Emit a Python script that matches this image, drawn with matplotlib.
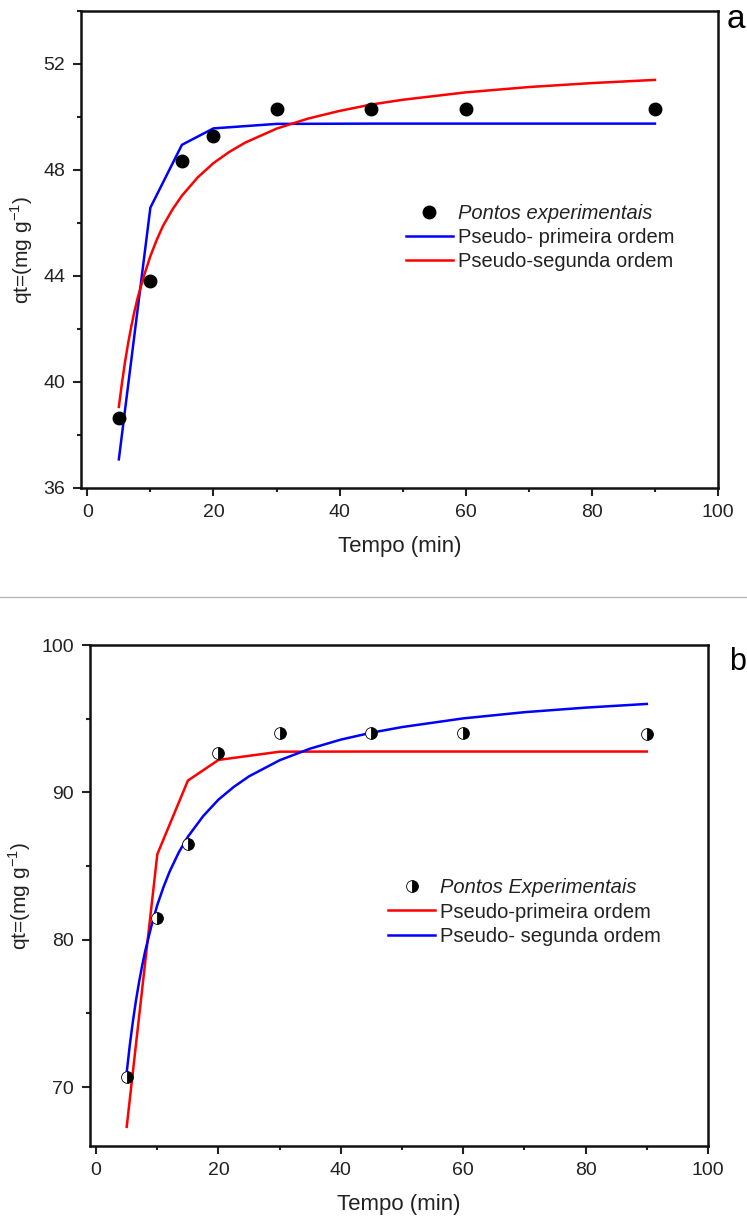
import matplotlib
matplotlib.use('Agg')
import matplotlib.pyplot as plt
from matplotlib.lines import Line2D
from matplotlib.ticker import MultipleLocator

plt.rcParams['font.family'] = ['Liberation Sans', 'DejaVu Sans']

# tempos (min)
t_exp = [5, 10, 15, 20, 30, 45, 60, 90]

# painel a
qa_exp = [38.63, 43.81, 48.33, 49.3, 50.32, 50.32, 50.32, 50.32]
qa_pfo = [37.08, 46.58, 48.95, 49.57, 49.74, 49.75, 49.75, 49.75]
t_curve = [5, 5.5, 6, 6.5, 7, 7.5, 8, 9, 10, 11, 12, 13.5, 15, 17.5, 20, 22.5,
           25, 30, 35, 40, 45, 50, 60, 70, 80, 90]
qa_pso = [39.06, 39.97, 40.79, 41.5, 42.13, 42.69, 43.19, 44.02, 44.75, 45.36,
          45.89, 46.51, 47.03, 47.72, 48.26, 48.68, 49.03, 49.56, 49.94, 50.23,
          50.47, 50.65, 50.93, 51.13, 51.28, 51.4]

# painel b
qb_exp = [70.7, 81.5, 86.5, 92.7, 94.0, 94.05, 94.0, 93.96]
qb_pfo = [67.3, 85.8, 90.8, 92.2, 92.76, 92.77, 92.77, 92.77]
qb_pso = [71.0, 72.83, 74.43, 75.84, 77.08, 78.19, 79.19, 80.88, 82.36, 83.56,
          84.61, 85.92, 86.99, 88.39, 89.51, 90.37, 91.09, 92.18, 92.97, 93.58,
          94.05, 94.43, 95.02, 95.44, 95.75, 96.0]

fig = plt.figure(figsize=(7.47, 12.23), dpi=100)
W, H = 747, 1223


def make_ax(l, t, r, b):
    return fig.add_axes([l / W, 1 - b / H, (r - l) / W, (b - t) / H])


def style(ax, ylim, ymaj, ymin):
    ax.set_xlim(-1, 100)
    ax.set_ylim(*ylim)
    ax.xaxis.set_major_locator(MultipleLocator(20))
    ax.xaxis.set_minor_locator(MultipleLocator(10))
    ax.yaxis.set_major_locator(MultipleLocator(ymaj))
    ax.yaxis.set_minor_locator(MultipleLocator(ymin))
    ax.tick_params(which='both', direction='out', width=1.5, labelsize=14,
                   colors='#222222', top=False, right=False, pad=6)
    ax.tick_params(which='major', length=5.5)
    ax.tick_params(which='minor', length=3)
    for s in ax.spines.values():
        s.set_linewidth(1.8)
        s.set_color('#111111')
    ax.set_xlabel('Tempo (min)', fontsize=16, color='#222222', labelpad=11)
    ax.set_ylabel(r'qt=(mg g$^{\mathregular{-1}}$)', fontsize=15, color='#222222',
                  labelpad=6)


def legend(ax, anchor):
    leg = ax.legend(loc='center left', bbox_to_anchor=anchor, frameon=False,
                    fontsize=14.5, handlelength=2.35, handletextpad=0.25,
                    labelspacing=0.25, borderpad=0)
    leg.get_texts()[0].set_fontstyle('italic')
    for tx in leg.get_texts():
        tx.set_color('#222222')
    return leg


# ---- a ----
ax1 = make_ax(81, 11, 718, 488)
ax1.plot(t_exp, qa_exp, 'o', color='black', markersize=9,
         label='Pontos experimentais', zorder=3)
ax1.plot(t_exp, qa_pfo, '-', color='#0000ff', lw=1.8, label='Pseudo- primeira ordem')
ax1.plot(t_curve, qa_pso, '-', color='#ff0000', lw=1.8, label='Pseudo-segunda ordem')
style(ax1, (36, 54), 4, 2)
legend(ax1, (0.494, 0.526))
fig.text(736 / W, 1 - 20 / H, 'a', fontsize=24, ha='center', va='center')

# separador
fig.add_artist(Line2D([0, 1], [1 - 597 / H, 1 - 597 / H], transform=fig.transFigure,
                      color='#b8b8b8', lw=1))

# ---- b ----
ax2 = make_ax(90, 645, 708, 1146)
ax2.plot(t_exp, qb_exp, 'o', markersize=8.5, fillstyle='right',
         markerfacecolor='black', markerfacecoloralt='white',
         markeredgecolor='black', markeredgewidth=0.6, linestyle='none',
         label='Pontos Experimentais', zorder=3)
ax2.plot(t_exp, qb_pfo, '-', color='#ff0000', lw=1.8, label='Pseudo-primeira ordem')
ax2.plot(t_curve, qb_pso, '-', color='#0000ff', lw=1.8, label='Pseudo- segunda ordem')
style(ax2, (66, 100), 10, 5)
legend(ax2, (0.466, 0.467))
fig.text(738 / W, 1 - 662 / H, 'b', fontsize=22, ha='center', va='center')

fig.savefig('out.png', dpi=100)
